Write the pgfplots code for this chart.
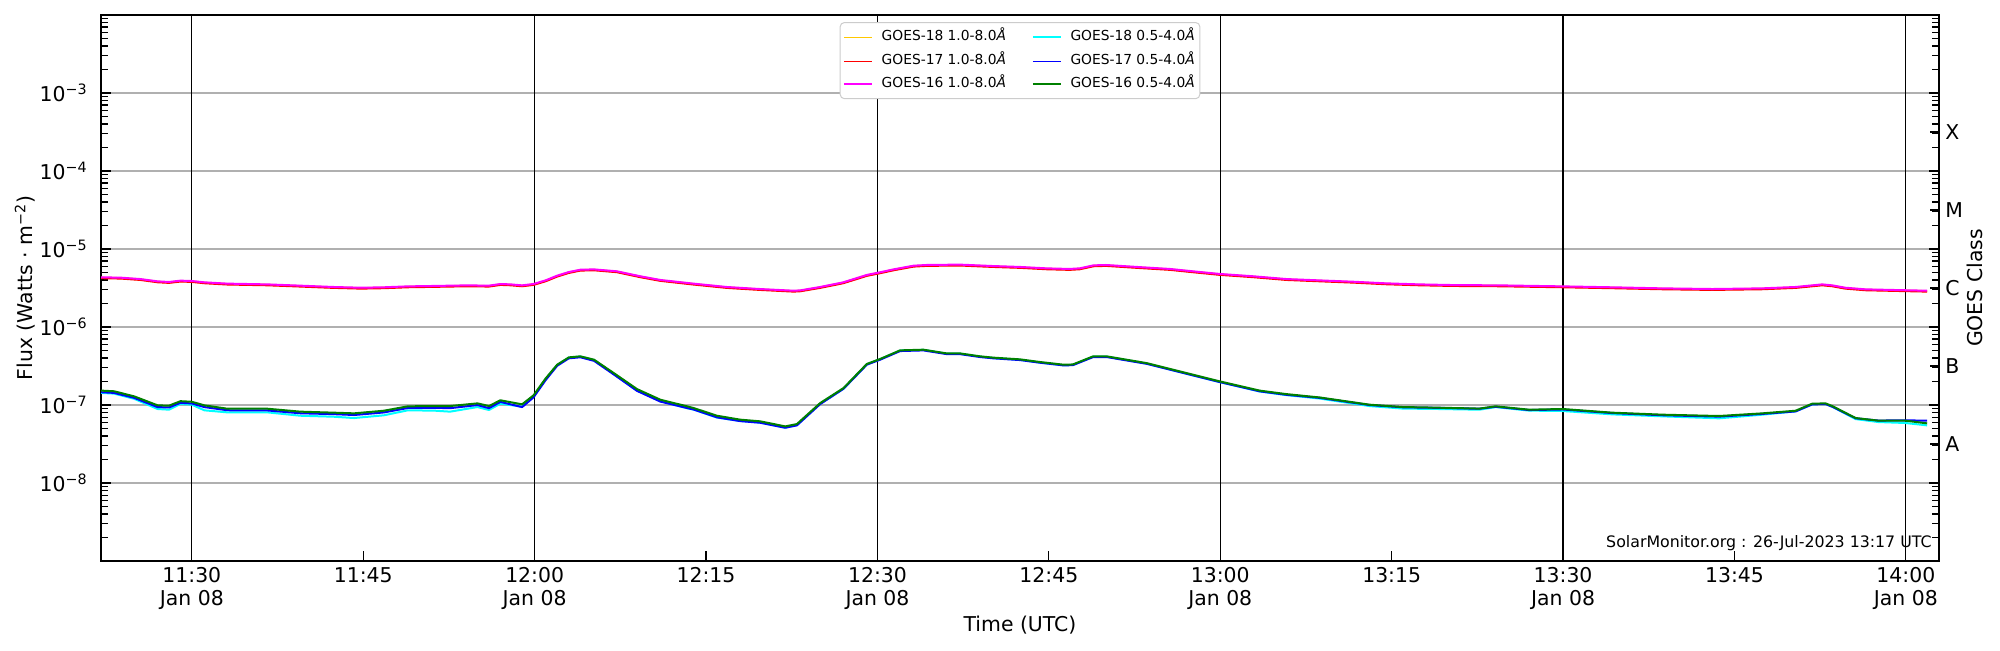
\documentclass[border=0pt]{standalone}
\usepackage{fontspec}
\setmainfont{DejaVu Sans}
\usepackage{pgfplots}
\pgfplotsset{compat=1.18}
\usepackage{pgfplotstable}
\definecolor{goesGold}{HTML}{FFC800}
\definecolor{goesRed}{HTML}{FF0000}
\definecolor{goesMag}{HTML}{FF00FF}
\definecolor{goesCyan}{HTML}{00FFFF}
\definecolor{goesBlue}{HTML}{0000FF}
\definecolor{goesGreen}{HTML}{008000}
\definecolor{gridgray}{HTML}{B0B0B0}
\definecolor{leggray}{HTML}{CCCCCC}

\pgfplotstableread{
t f
22.05 4.34e-6
23.8 4.29e-6
25.5 4.12e-6
27.0 3.85e-6
28.0 3.78e-6
29.0 3.93e-6
30.0 3.89e-6
31.1 3.74e-6
33.1 3.60e-6
36.6 3.52e-6
39.5 3.39e-6
42.4 3.26e-6
44.8 3.19e-6
46.8 3.23e-6
48.9 3.32e-6
51.2 3.36e-6
54.1 3.42e-6
56.0 3.39e-6
57.0 3.56e-6
57.9 3.52e-6
58.9 3.42e-6
59.9 3.56e-6
60.95 3.96e-6
61.97 4.55e-6
62.99 5.07e-6
64.0 5.43e-6
65.2 5.48e-6
67.2 5.18e-6
69.25 4.47e-6
71.0 4.01e-6
73.9 3.60e-6
76.8 3.26e-6
79.7 3.07e-6
82.66 2.92e-6
83.24 2.95e-6
84.99 3.26e-6
87.0 3.74e-6
89.07 4.65e-6
90.2 5.02e-6
91.4 5.48e-6
93.15 6.11e-6
94.3 6.24e-6
97.2 6.31e-6
100.1 6.05e-6
102.47 5.89e-6
104.8 5.65e-6
106.8 5.55e-6
107.7 5.65e-6
108.9 6.17e-6
110.0 6.24e-6
112.7 5.89e-6
115.6 5.55e-6
117.6 5.18e-6
119.95 4.79e-6
122.9 4.47e-6
125.8 4.12e-6
128.7 3.96e-6
131.6 3.81e-6
134.5 3.63e-6
137.4 3.52e-6
140.4 3.45e-6
144.4 3.42e-6
149.96 3.32e-6
154.3 3.23e-6
158.7 3.13e-6
163.07 3.07e-6
167.4 3.13e-6
170.35 3.26e-6
172.68 3.52e-6
173.56 3.42e-6
174.7 3.19e-6
176.47 3.04e-6
179.1 2.98e-6
181.86 2.92e-6
}\tabL

\pgfplotstableread{
t f
22.05 1.53e-7
23.2 1.50e-7
24.96 1.29e-7
27.0 9.91e-8
28.0 9.80e-8
29.0 1.12e-7
30.0 1.10e-7
31.1 9.90e-8
33.1 8.97e-8
36.6 8.97e-8
39.5 8.22e-8
42.4 7.98e-8
44.2 7.82e-8
46.8 8.45e-8
48.9 9.62e-8
51.2 9.70e-8
52.6 9.70e-8
55.0 1.05e-7
56.0 9.70e-8
57.0 1.15e-7
58.9 1.02e-7
59.9 1.33e-7
60.95 2.18e-7
61.97 3.29e-7
62.99 4.08e-7
64.0 4.21e-7
65.2 3.81e-7
66.92 2.57e-7
68.96 1.60e-7
71.0 1.17e-7
73.33 9.62e-8
73.9 9.16e-8
75.95 7.29e-8
77.99 6.49e-8
79.74 6.18e-8
81.93 5.32e-8
82.95 5.70e-8
84.99 1.06e-7
87.03 1.65e-7
89.07 3.36e-7
90.23 3.89e-7
91.98 5.02e-7
94.02 5.12e-7
96.06 4.59e-7
97.22 4.59e-7
98.97 4.21e-7
100.14 4.05e-7
102.47 3.85e-7
104.22 3.56e-7
106.26 3.29e-7
107.1 3.31e-7
108.88 4.21e-7
110.05 4.21e-7
113.54 3.45e-7
117.04 2.57e-7
119.95 2.01e-7
123.45 1.53e-7
125.78 1.38e-7
128.7 1.25e-7
133.06 1.01e-7
135.98 9.42e-8
138.9 9.25e-8
142.68 9.00e-8
144.1 9.62e-8
147.04 8.71e-8
149.96 8.89e-8
154.3 7.98e-8
158.7 7.52e-8
163.65 7.23e-8
167.44 7.82e-8
170.35 8.45e-8
171.8 1.04e-7
172.97 1.05e-7
173.56 9.70e-8
175.6 6.81e-8
177.6 6.30e-8
179.97 6.30e-8
181.86 5.82e-8
}\tabSg

\pgfplotstableread{
t f
22.05 1.49e-7
23.2 1.46e-7
24.96 1.26e-7
27.0 9.60e-8
28.0 9.50e-8
29.0 1.09e-7
30.0 1.07e-7
31.1 9.60e-8
33.1 8.75e-8
36.6 8.70e-8
39.5 8.00e-8
42.4 7.80e-8
44.2 7.60e-8
46.8 8.20e-8
48.9 9.35e-8
51.2 9.40e-8
52.6 9.30e-8
55.0 1.02e-7
56.0 9.30e-8
57.0 1.12e-7
58.9 9.60e-8
59.9 1.28e-7
60.95 2.12e-7
61.97 3.25e-7
62.99 4.05e-7
64.0 4.18e-7
65.2 3.76e-7
66.92 2.52e-7
68.96 1.55e-7
71.0 1.13e-7
73.33 9.35e-8
73.9 8.95e-8
75.95 7.10e-8
77.99 6.35e-8
79.74 6.05e-8
81.93 5.22e-8
82.95 5.60e-8
84.99 1.05e-7
87.03 1.65e-7
89.07 3.36e-7
90.23 3.89e-7
91.98 5.02e-7
94.02 5.12e-7
96.06 4.59e-7
97.22 4.59e-7
98.97 4.21e-7
100.14 4.05e-7
102.47 3.85e-7
104.22 3.56e-7
106.26 3.29e-7
107.1 3.31e-7
108.88 4.21e-7
110.05 4.21e-7
113.54 3.45e-7
117.04 2.57e-7
119.95 2.01e-7
123.45 1.53e-7
125.78 1.38e-7
128.7 1.26e-7
133.06 1.02e-7
135.98 9.55e-8
138.9 9.40e-8
142.68 9.15e-8
144.1 9.70e-8
147.04 8.80e-8
149.96 8.95e-8
154.3 8.05e-8
158.7 7.55e-8
163.65 7.25e-8
167.44 7.85e-8
170.35 8.45e-8
171.8 1.04e-7
172.97 1.05e-7
173.56 9.70e-8
175.6 6.90e-8
177.6 6.45e-8
179.97 6.50e-8
181.86 6.42e-8
}\tabSb

\pgfplotstableread{
t f
22.05 1.43e-7
23.2 1.40e-7
24.96 1.20e-7
27.0 8.89e-8
28.0 8.71e-8
29.0 1.03e-7
30.0 1.01e-7
31.1 8.55e-8
33.1 8.05e-8
36.6 8.05e-8
39.5 7.29e-8
42.4 7.08e-8
44.2 6.81e-8
46.8 7.38e-8
48.9 8.55e-8
51.2 8.47e-8
52.6 8.22e-8
55.0 9.42e-8
56.0 8.63e-8
57.0 1.04e-7
58.9 9.53e-8
59.9 1.28e-7
60.95 2.14e-7
61.97 3.25e-7
62.99 4.05e-7
64.0 4.18e-7
65.2 3.76e-7
66.92 2.50e-7
68.96 1.53e-7
71.0 1.12e-7
73.33 9.10e-8
73.9 8.75e-8
75.95 6.90e-8
77.99 6.25e-8
79.74 5.95e-8
81.93 5.12e-8
82.95 5.55e-8
84.99 1.04e-7
87.03 1.62e-7
89.07 3.33e-7
90.23 3.86e-7
91.98 4.99e-7
94.02 5.09e-7
96.06 4.55e-7
97.22 4.55e-7
98.97 4.17e-7
100.14 4.00e-7
102.47 3.80e-7
104.22 3.50e-7
106.26 3.24e-7
107.1 3.27e-7
108.88 4.17e-7
110.05 4.17e-7
113.54 3.40e-7
117.04 2.52e-7
119.95 1.97e-7
123.45 1.49e-7
125.78 1.34e-7
128.7 1.21e-7
133.06 9.70e-8
135.98 9.00e-8
138.9 8.90e-8
142.68 8.71e-8
144.1 9.40e-8
147.04 8.47e-8
149.96 8.38e-8
154.3 7.59e-8
158.7 7.16e-8
163.65 6.75e-8
167.44 7.52e-8
170.35 8.30e-8
171.8 1.02e-7
172.97 1.03e-7
173.56 9.50e-8
175.6 6.60e-8
177.6 6.05e-8
179.97 5.88e-8
181.86 5.48e-8
}\tabSc

\newcommand{\tl}{\fontsize{10.2}{11.4}\selectfont}
\newcommand{\sm}{\fontsize{6.9}{8}\selectfont}

\begin{document}
\begin{tikzpicture}
\useasboundingbox (0,0) rectangle (1000pt,325pt);
\begin{axis}[
  at={(50.5pt,44.5pt)}, anchor=south west,
  scale only axis, width=919pt, height=273pt,
  ymode=log, ymin=1e-9, ymax=1e-2,
  xmin=22.05, xmax=182.9,
  axis line style={line width=0.65pt},
  tick align=inside,
  xtick pos=left, ytick pos=both, yticklabel pos=left,
  major tick length=5pt, minor tick length=3.5pt,
  every tick/.style={black, line width=0.6pt},
  xtick={30,45,60,75,90,105,120,135,150,165,180},
  xticklabels={{11:30\\Jan 08},{11:45},{12:00\\Jan 08},{12:15},{12:30\\Jan 08},{12:45},{13:00\\Jan 08},{13:15},{13:30\\Jan 08},{13:45},{14:00\\Jan 08}},
  xticklabel style={font=\tl, align=center, inner sep=0pt, yshift=-3pt},
  extra x ticks={30,60,90,120,150,180},
  extra x tick labels={,,,,,},
  extra x tick style={grid=major, major grid style={black, line width=0.6pt}},
  ytick={1e-9,1e-8,1e-7,1e-6,1e-5,1e-4,1e-3,1e-2},
  yticklabels={,10\textsuperscript{−8},10\textsuperscript{−7},10\textsuperscript{−6},10\textsuperscript{−5},10\textsuperscript{−4},10\textsuperscript{−3},},
  minor ytick={2e-9,3e-9,4e-9,5e-9,6e-9,7e-9,8e-9,9e-9,
    2e-8,3e-8,4e-8,5e-8,6e-8,7e-8,8e-8,9e-8,
    2e-7,3e-7,4e-7,5e-7,6e-7,7e-7,8e-7,9e-7,
    2e-6,3e-6,4e-6,5e-6,6e-6,7e-6,8e-6,9e-6,
    2e-5,3e-5,4e-5,5e-5,6e-5,7e-5,8e-5,9e-5,
    2e-4,3e-4,4e-4,5e-4,6e-4,7e-4,8e-4,9e-4,
    2e-3,3e-3,4e-3,5e-3,6e-3,7e-3,8e-3,9e-3},
  yticklabel style={font=\tl, inner sep=0pt, xshift=-6.5pt},
  ymajorgrids=true,
  major grid style={gridgray, line width=0.6pt},
  xlabel={Time (UTC)},
  xlabel style={font=\tl, at={(axis description cs:0.5,-0.1172)}, anchor=center},
  ylabel={Flux (Watts · m\textsuperscript{−2})},
  ylabel style={font=\tl, at={(axis description cs:-0.0413,0.5)}, anchor=center},
  legend columns=2,
  legend cell align=left,
  legend image code/.code={\draw[#1, line width=0.75pt, yshift=0pt] (0pt,0pt) -- (14pt,0pt);},
  legend style={at={(0.5,0.987)}, anchor=north, draw=leggray, line width=0.5pt,
    rounded corners=2pt, fill=white, font=\sm,
    inner xsep=1.5pt, inner ysep=2.45pt, row sep=2.3pt,
    nodes={inner xsep=1pt, inner ysep=1.5pt, text height=5pt, text depth=1.5pt},
    /tikz/every odd column/.style={column sep=3.5pt},
    /tikz/every even column/.style={column sep=12pt}},
  every axis plot/.append style={line width=1pt, line join=round},
]
\addplot[draw=goesGold, yshift=-0.2pt] table[x=t,y=f] {\tabL};
\addlegendentry{GOES-18 1.0-8.0\textit{Å}}
\addplot[draw=goesCyan] table[x=t,y=f] {\tabSc};
\addlegendentry{GOES-18 0.5-4.0\textit{Å}}
\addplot[draw=goesRed, yshift=-0.45pt] table[x=t,y=f] {\tabL};
\addlegendentry{GOES-17 1.0-8.0\textit{Å}}
\addplot[draw=goesBlue, yshift=-0.35pt] table[x=t,y=f] {\tabSb};
\addlegendentry{GOES-17 0.5-4.0\textit{Å}}
\addplot[draw=goesMag] table[x=t,y=f] {\tabL};
\addlegendentry{GOES-16 1.0-8.0\textit{Å}}
\addplot[draw=goesGreen] table[x=t,y=f] {\tabSg};
\addlegendentry{GOES-16 0.5-4.0\textit{Å}}

\node[anchor=east, inner sep=0pt, font=\fontsize{7.9}{9}\selectfont] at (axis description cs:0.9962,0.033) {SolarMonitor.org : 26-Jul-2023 13:17 UTC};
\end{axis}
\begin{axis}[
  at={(50.5pt,44.5pt)}, anchor=south west,
  scale only axis, width=919pt, height=273pt,
  ymode=log, ymin=1e-9, ymax=1e-2,
  xmin=22.05, xmax=182.9,
  axis x line=none, axis y line*=right,
  axis line style={line width=0.65pt},
  tick align=inside,
  major tick length=4.5pt,
  every tick/.style={black, line width=0.6pt},
  ytick={3.1623e-8,3.1623e-7,3.1623e-6,3.1623e-5,3.1623e-4},
  yticklabels={A,B,C,M,X},
  yminorticks=false,
  yticklabel style={font=\tl, inner sep=0pt, xshift=3pt, anchor=west},
  ylabel={GOES Class},
  ylabel style={font=\tl, at={(axis description cs:1.0196,0.5)}, anchor=center, rotate=0},
]
\end{axis}
\end{tikzpicture}
\end{document}
